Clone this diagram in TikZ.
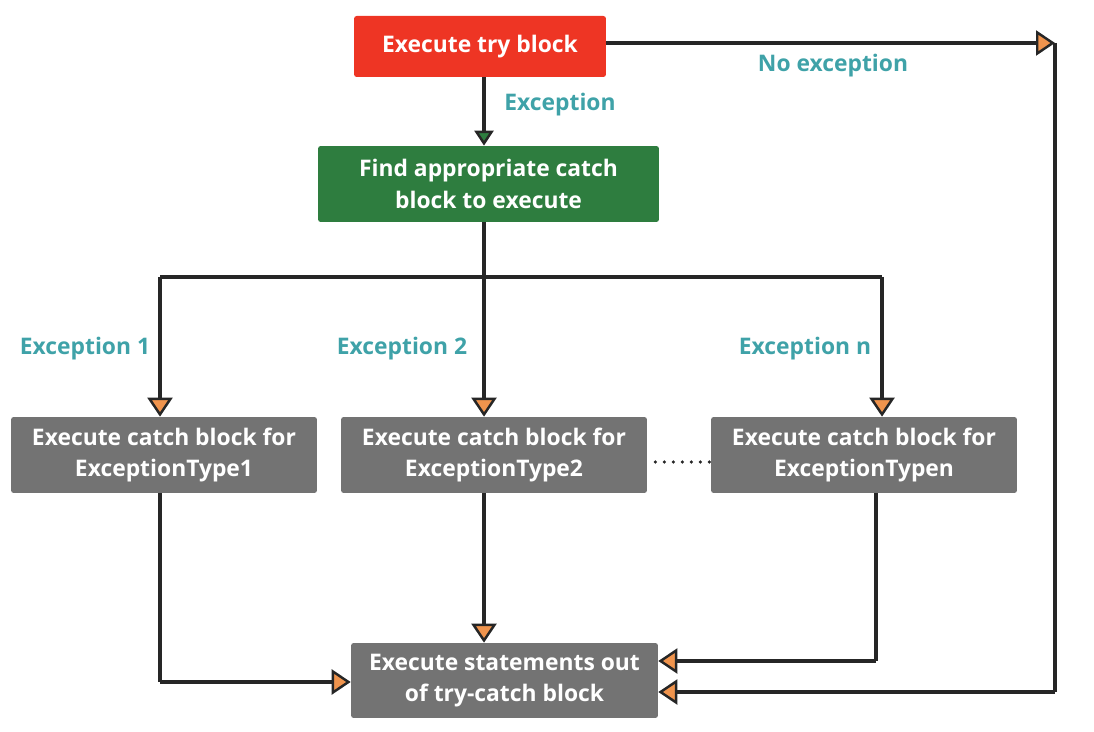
\documentclass[tikz,border=0pt]{standalone}
\usepackage{fontspec}
\setmainfont{Open Sans}
\usepackage{tikz}
\usetikzlibrary{arrows.meta}

\definecolor{tryred}{HTML}{EE3524}
\definecolor{findgreen}{HTML}{2E7D3F}
\definecolor{boxgray}{HTML}{737373}
\definecolor{tiporange}{HTML}{F0944D}
\definecolor{labelteal}{HTML}{3FA2A8}

\tikzset{
  box/.style={rounded corners=1.5pt, text=white, align=center,
    font=\fontsize{13}{18}\selectfont\bfseries},
  catchbox/.style={box, fill=boxgray, minimum width=6.12cm, minimum height=1.52cm},
  lbl/.style={text=labelteal, font=\fontsize{13}{15}\selectfont\bfseries},
  line/.style={draw=black!85, line width=1.8pt},
  flow/.style={line, -{Triangle[length=0.38cm, width=0.5cm, fill=tiporange, line width=1.4pt]}},
  greenflow/.style={line, -{Triangle[length=0.3cm, width=0.38cm, fill=findgreen, line width=1.4pt]}}
}

\begin{document}
\begin{tikzpicture}[x=0.02cm, y=-0.02cm]
    \useasboundingbox (0,0) rectangle (1094,732);

    % boxes
    \node(try)  [box, fill=tryred, minimum width=5.04cm, minimum height=1.22cm] at (480,46.5) {Execute try block};
    \node(find) [box, fill=findgreen, minimum width=6.82cm, minimum height=1.52cm] at (488.5,184) {Find appropriate catch\\block to execute};
    \node(c1)   [catchbox] at (164,455) {Execute catch block for\\ExceptionType1};
    \node(c2)   [catchbox] at (494,455) {Execute catch block for\\ExceptionType2};
    \node(cn)   [catchbox] at (864,455) {Execute catch block for\\ExceptionTypen};
    \node(out)  [box, fill=boxgray, minimum width=6.14cm, minimum height=1.5cm] at (504.5,680.5) {Execute statements out\\of try-catch block};

    % labels
    \node(exc)   [lbl] at (560,105) {Exception};
    \node(noexc) [lbl] at (833,66)  {No exception};
    \node(exc1)  [lbl] at (85,349)  {Exception 1};
    \node(exc2)  [lbl] at (402,349) {Exception 2};
    \node(excn)  [lbl] at (805,349) {Exception n};

    % turning points
    \coordinate (split)   at (484,277);
    \coordinate (lbranch) at (160,277);
    \coordinate (rbranch) at (882,277);
    \coordinate (corner)  at (1055,43);
    \coordinate (back)    at (1055,692);
    \coordinate (oneturn) at (160,682);
    \coordinate (nturn)   at (876,661);

    % try block
    \draw [greenflow] (try.south -| split) to (find.north -| split);
    \draw [flow] (try.east |- corner) to (corner);
    \draw [line] (corner) to (back);
    \draw [flow] (back) to (back -| out.east);

    % catch blocks
    \draw [line] (find.south -| split) to (split);
    \draw [line] (lbranch) to (rbranch);
    \draw [flow] (lbranch) to (c1.north -| lbranch);
    \draw [flow] (split) to (c2.north -| split);
    \draw [flow] (rbranch) to (cn.north -| rbranch);
    \draw [line, line width=2pt, line cap=round, dash pattern=on 0pt off 0.18cm]
        ([xshift=0.16cm, yshift=-0.14cm]c2.east) to ([yshift=-0.14cm]cn.west);

    % after catch
    \draw [line] (c1.south -| oneturn) to (oneturn);
    \draw [flow] (oneturn) to (oneturn -| out.west);
    \draw [flow] (c2.south -| split) to (out.north -| split);
    \draw [line] (cn.south -| nturn) to (nturn);
    \draw [flow] (nturn) to (nturn -| out.east);
\end{tikzpicture}
\end{document}
